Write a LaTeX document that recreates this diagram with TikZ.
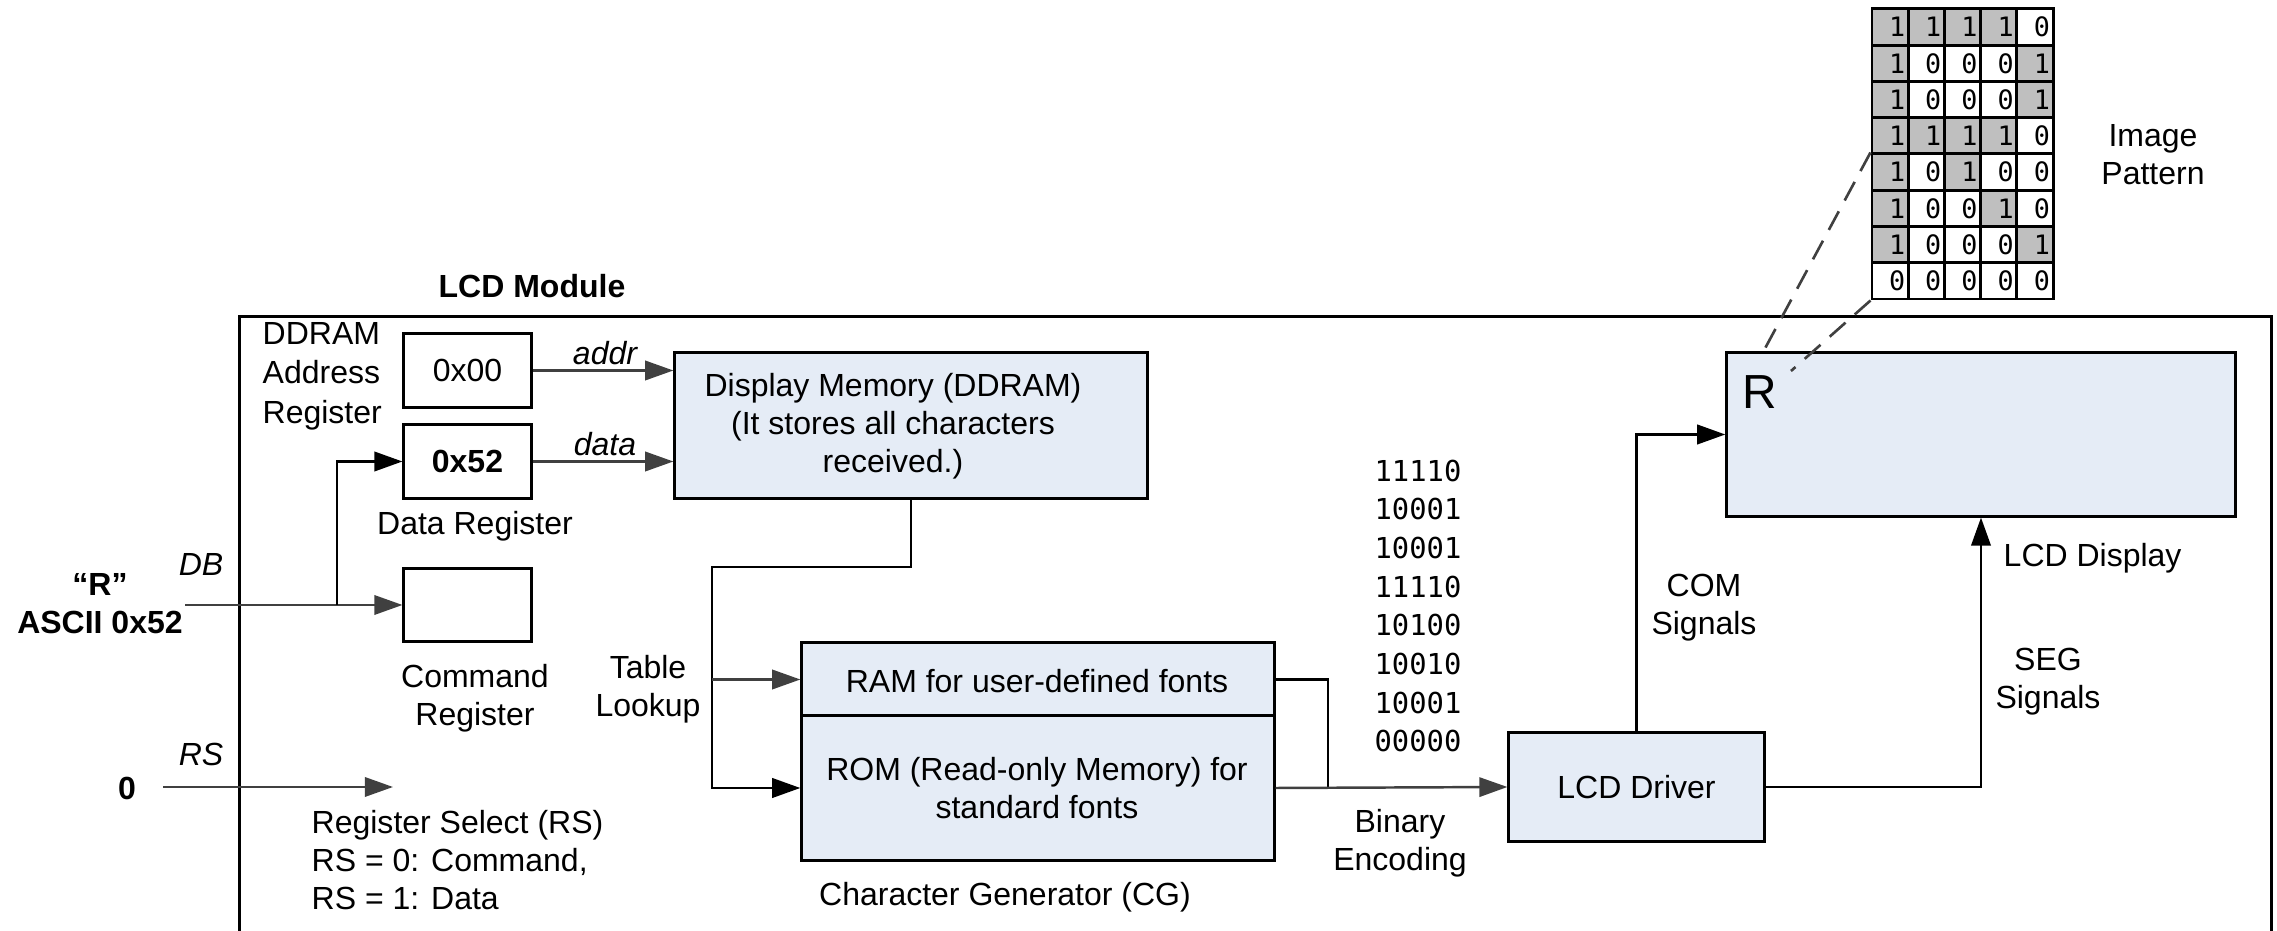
\documentclass[tikz,border=0pt]{standalone}
\usepackage{fontspec}
\setmainfont{Liberation Sans}
\newfontfamily\monofont{DejaVu Sans Mono}
\usetikzlibrary{arrows.meta}
\definecolor{boxblue}{RGB}{229,236,246}
\definecolor{dgray}{RGB}{64,64,64}
\definecolor{cellgray}{RGB}{191,191,191}
\begin{document}
\begin{tikzpicture}[x=0.01cm,y=-0.01cm,
  txt/.style={font=\fontsize{9.1}{10.8}\selectfont, align=center, inner sep=0pt},
  box/.style={draw, line width=0.85pt, fill=boxblue, inner sep=0pt},
  reg/.style={draw, line width=0.85pt, fill=white, inner sep=0pt, minimum width=1.27cm, minimum height=0.73cm, font=\fontsize{9.1}{10.8}\selectfont},
  blk/.style={line width=0.8pt, -{Triangle[length=8pt,width=5.5pt]}},
  gry/.style={draw=dgray, line width=0.7pt, -{Triangle[length=8pt,width=5.5pt]}},
  plainblk/.style={line width=0.8pt},
  cell/.style={draw, line width=0.85pt, minimum width=0.362cm, minimum height=0.3625cm, inner sep=0pt, text width=0.3cm, align=right, font=\monofont\fontsize{7.6}{9}\selectfont},
  dashln/.style={draw=dgray, line width=0.75pt, dash pattern=on 6pt off 3.5pt}
]
\useasboundingbox (0,0) rectangle (2277,931);

% outer module frame
\node[draw, line width=0.85pt, minimum width=20.31cm, minimum height=6.17cm, inner sep=0pt] (module) at (1255.5,625.5) {};
\node[txt, font=\fontsize{9.1}{10.8}\selectfont\bfseries] (modlbl) at (532,286) {LCD Module};

% registers
\node[reg] (addrreg) at (467.5,370.5) {0x00};
\node[reg, font=\fontsize{9.1}{10.8}\selectfont\bfseries] (datareg) at (467.5,461.5) {0x52};
\node[reg] (cmdreg) at (467.5,605) {};
\node[txt, anchor=west, align=left, font=\fontsize{9.1}{11.2}\selectfont] (ddramlbl) at (262,376) {DDRAM\\Address\\Register};
\node[txt] (datalbl) at (475,526) {Data Register};
\node[txt] (cmdlbl) at (475,698) {Command\\Register};

% inputs
\node[txt, font=\fontsize{9.1}{10.8}\selectfont\bfseries] (rin) at (100,604) {“R”\\ASCII 0x52};
\node[txt, font=\fontsize{9.1}{10.8}\selectfont\itshape] (dblbl) at (201,565) {DB};
\coordinate (dbin) at (185,605);
\coordinate (dbj) at (337,605);
\draw[gry] (dbin) -- (cmdreg.west);
\draw[blk] (dbj) |- (datareg.west);

\node[txt, font=\fontsize{9.1}{10.8}\selectfont\bfseries] (zero) at (127,788) {0};
\node[txt, font=\fontsize{9.1}{10.8}\selectfont\itshape] (rslbl) at (201,754) {RS};
\coordinate (rsin) at (163,787);
\coordinate (rsend) at (393,787);
\draw[gry] (rsin) -- (rsend);
\node[txt, anchor=west, align=left] (rstext) at (311,860) {Register Select (RS)\\RS = 0: Command,\\RS = 1: Data};

% DDRAM
\node[box, minimum width=4.72cm, minimum height=1.45cm] (ddram) at (911,425.5) {};
\node[txt] (ddramtxt) at (893,426) {Display Memory (DDRAM)\\(It stores all characters\\received.)};
\draw[gry] (addrreg.east) -- (addrreg.east -| ddram.west);
\draw[gry] (datareg.east) -- (datareg.east -| ddram.west);
\node[txt, font=\fontsize{9.1}{10.8}\selectfont\itshape] (addrlbl) at (605,353) {addr};
\node[txt, font=\fontsize{9.1}{10.8}\selectfont\itshape] (datalbl2) at (605,444) {data};

% character generator
\node[box, minimum width=4.72cm, minimum height=0.73cm] (ram) at (1038,679.5) {};
\node[box, minimum width=4.72cm, minimum height=1.44cm] (rom) at (1038,788) {};
\node[txt] (ramtxt) at (1037,681) {RAM for user-defined fonts};
\node[txt] (romtxt) at (1037,788) {ROM (Read-only Memory) for\\standard fonts};
\node[txt] (cglbl) at (1005,897) {Character Generator (CG)};
\node[txt] (tablbl) at (648,689) {Table\\Lookup};

\coordinate (tl) at (712,567);
\draw[blk] (ddram.south) |- (tl) |- (rom.west);
\draw[gry] (tl |- ram.west) -- (ram.west);

% binary encoding
\node[inner sep=0pt, align=left, font=\monofont\fontsize{8.2}{11}\selectfont] (bits) at (1418,606) {11110\\10001\\10001\\11110\\10100\\10010\\10001\\00000};
\node[txt] (binlbl) at (1400,843) {Binary\\Encoding};

% driver and display
\node[box, minimum width=2.55cm, minimum height=1.08cm, font=\fontsize{9.1}{10.8}\selectfont] (driver) at (1636.5,787) {LCD Driver};
\coordinate (merge) at (1328,788);
\draw[plainblk] (ram.east) -| (merge);
\draw[gry] (rom.east) -- (driver.west);

\node[box, minimum width=5.08cm, minimum height=1.63cm] (display) at (1981,434.5) {};
\node[inner sep=0pt, font=\fontsize{13.6}{16}\selectfont] (rchar) at (1760,392) {R};
\draw[blk] (driver.north) |- (display.west);
\draw[blk] (driver.east) -| (display.south);
\node[txt] (comlbl) at (1704,608) {COM\\Signals};
\node[txt] (seglbl) at (2048,682) {SEG\\Signals};
\node[txt, anchor=west] (displbl) at (2003,558) {LCD Display};

% image pattern grid
\foreach \r/\bits in {0/{1,1,1,1,0},1/{1,0,0,0,1},2/{1,0,0,0,1},3/{1,1,1,1,0},4/{1,0,1,0,0},5/{1,0,0,1,0},6/{1,0,0,0,1},7/{0,0,0,0,0}}{
  \foreach \b [count=\c from 0] in \bits {
    \ifnum\b=1 \def\cf{cellgray}\else\def\cf{white}\fi
    \node[cell, fill=\cf] (g\r\c) at ({1872+18.1+36.2*\c},{9+18.125+36.25*\r}) {\b};
  }
}
\node[txt] (patlbl) at (2153,155) {Image\\Pattern};
\coordinate (d1) at (1762,354);
\coordinate (d2) at (1791,371);
\draw[dashln] (g40.north west) -- (d1);
\draw[dashln] (g70.south west) -- (d2);
\end{tikzpicture}
\end{document}
